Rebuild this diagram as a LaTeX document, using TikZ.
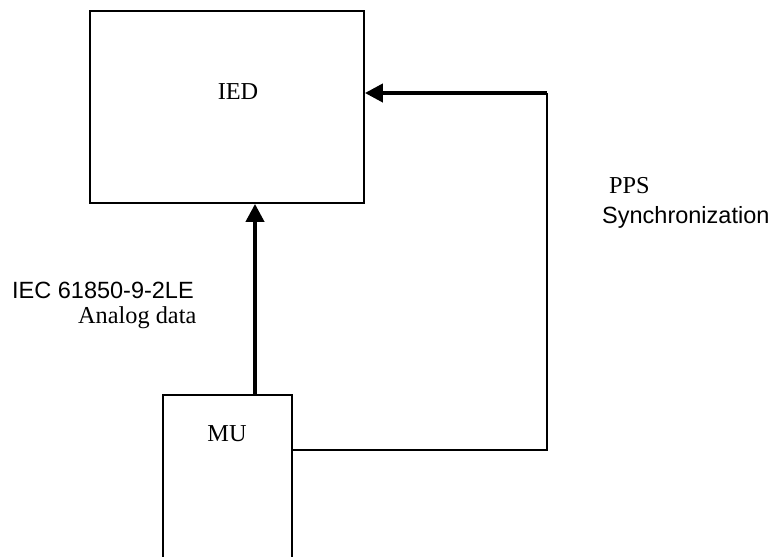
\documentclass[tikz,border=0pt]{standalone}
\usepackage{fontspec}
\setmainfont{Liberation Serif}
\newfontfamily\arialf{Liberation Sans}
\usetikzlibrary{arrows.meta}
\begin{document}
\begin{tikzpicture}[x=1pt,y=-1pt,
  box/.style={draw=black,line width=1.8pt,rectangle,inner sep=0pt},
  txt/.style={inner sep=0pt,font=\fontsize{24.3}{29}\selectfont},
  stxt/.style={inner sep=0pt,font=\arialf\fontsize{23.5}{28}\selectfont},
  thickarrow/.style={line width=4pt,-{Triangle[length=18pt,width=18pt]}},
  thinline/.style={line width=1.8pt}]
\clip (0,0) rectangle (774,557);
\fill[white] (0,0) rectangle (774,557);
% boxes
\node[box,minimum width=274pt,minimum height=192pt] (IED) at (227,107) {};
\node[box,minimum width=129pt,minimum height=185pt] (MU) at (227.5,487.5) {};
% box texts
\node[txt,anchor=base] (IEDt) at (238,99) {IED};
\node[txt,anchor=base] (MUt) at (227,441) {MU};
% labels
\node[stxt,anchor=base west] (iec) at (12,298) {IEC 61850-9-2LE};
\node[txt,anchor=base west] (analog) at (78,323) {Analog data};
\node[txt,anchor=base west] (pps) at (609,193) {PPS};
\node[stxt,anchor=base west] (sync) at (602,223) {Synchronization};
% connectors
\coordinate (ax) at (255,0);
\coordinate (c1) at (547,450);
\coordinate (c2) at (547,93);
\draw[thickarrow] (ax |- MU.north) -- (ax |- IED.south);
\draw[thinline,line join=miter] (c1 -| MU.east) -- (c1) -- (c2);
\draw[thickarrow] (c2) -- (c2 -| IED.east);
\end{tikzpicture}
\end{document}
